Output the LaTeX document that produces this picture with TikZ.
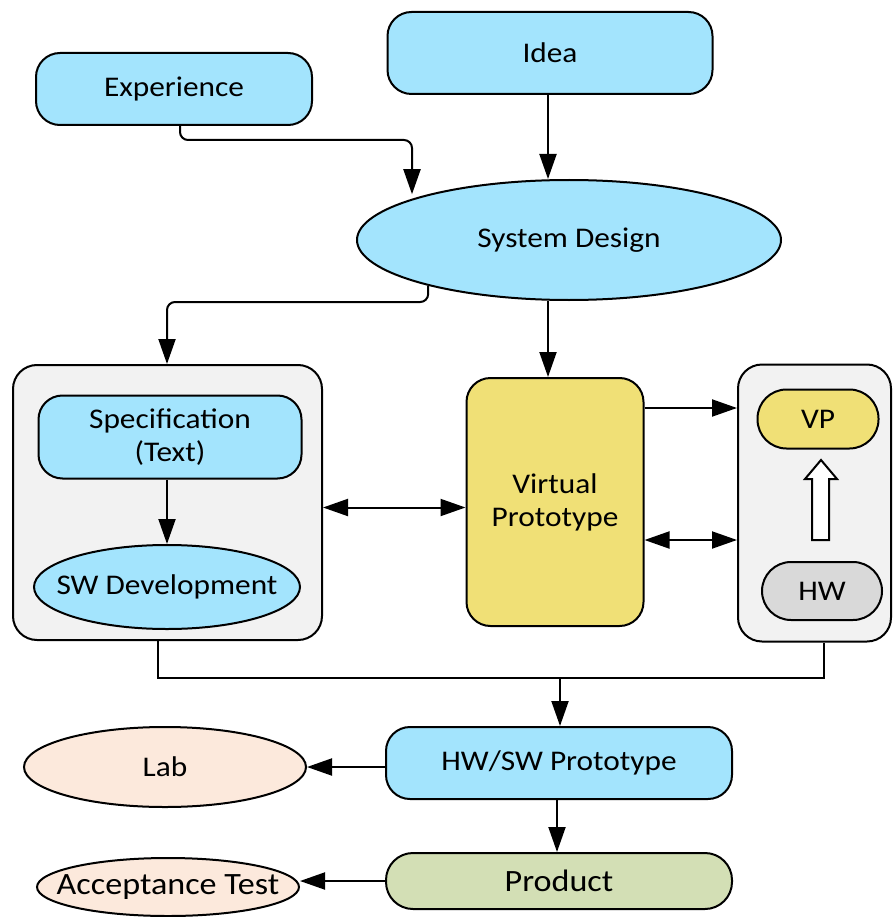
\documentclass[tikz,border=0pt]{standalone}
\usepackage{fontspec}
\setmainfont[FakeStretch=1.1]{Carlito}
\usetikzlibrary{arrows.meta,shapes.geometric}
\definecolor{lblue}{HTML}{A3E4FD}
\definecolor{peach}{HTML}{FCE9DC}
\definecolor{vyellow}{HTML}{F0E076}
\definecolor{cgray}{HTML}{F2F2F2}
\definecolor{hgray}{HTML}{D9D9D9}
\definecolor{pgreen}{HTML}{D3DFB5}
\tikzset{
  base/.style={draw=black, line width=2pt, inner sep=0pt, align=center, font=\fontsize{28.5}{33}\selectfont},
  bigtext/.style={font=\fontsize{31}{36}\selectfont},
  rbox/.style={base, rectangle, rounded corners=24pt},
  ebox/.style={base, ellipse},
  cont/.style={draw=black, line width=2pt, fill=cgray, rectangle, rounded corners=24pt, inner sep=0pt},
  arr/.style={line width=2pt, -{Triangle[length=25pt,width=17pt]}},
  darr/.style={line width=2pt, {Triangle[length=25pt,width=17pt]}-{Triangle[length=25pt,width=17pt]}},
}
\begin{document}
\begin{tikzpicture}[x=1pt,y=-1pt]
\useasboundingbox (0,0) rectangle (892,917);
% containers
\node[cont, minimum width=309pt, minimum height=275pt] (leftc) at (167.5,502.5) {};
\node[cont, minimum width=153pt, minimum height=277pt] (rightc) at (814.5,503) {};
% nodes
\node[rbox, fill=lblue, minimum width=276pt, minimum height=72pt] (exp) at (174,89) {Experience};
\node[rbox, fill=lblue, minimum width=325pt, minimum height=82pt] (idea) at (550,53) {Idea};
\node[ebox, fill=lblue, minimum width=424pt, minimum height=120pt] (sd) at (569,240) {System Design};
\node[rbox, fill=lblue, minimum width=263pt, minimum height=83pt] (spec) at (170,437) {Specification\\(Text)};
\node[ebox, fill=lblue, minimum width=266pt, minimum height=84pt, inner xsep=-25pt] (sw) at (167,587) {SW Development};
\node[rbox, fill=vyellow, minimum width=177pt, minimum height=248pt] (vp) at (555,502) {Virtual\\Prototype};
\node[rbox, fill=vyellow, minimum width=121pt, minimum height=59pt, rounded corners=29pt] (vpsmall) at (818,419) {VP};
\node[rbox, fill=hgray, minimum width=120pt, minimum height=58pt, rounded corners=29pt] (hw) at (822,591) {HW};
\node[rbox, fill=lblue, minimum width=346pt, minimum height=72pt] (hwsw) at (559,763) {HW/SW Prototype};
\node[ebox, fill=peach, minimum width=282pt, minimum height=80pt] (lab) at (165,767) {Lab};
\node[rbox, bigtext, fill=pgreen, minimum width=346pt, minimum height=56pt, rounded corners=27pt] (prod) at (559,881) {Product};
\node[ebox, bigtext, fill=peach, minimum width=262pt, minimum height=58pt, inner xsep=-30pt, inner ysep=-5pt] (acc) at (168,887) {Acceptance Test};
% hollow arrow
\draw[line width=2pt, fill=white, line join=miter] (812,540) -- (812,479) -- (805,479) -- (821,460) -- (837,479) -- (829,479) -- (829,540) -- cycle;
% connectors
\coordinate (expturn) at (412,140);
\draw[arr, rounded corners=8pt] ([xshift=6pt]exp.south) |- (expturn) [sharp corners] -- (expturn |- sd.162);
\draw[arr] ([xshift=-2pt]idea.south) -- ([xshift=-2pt]idea.south |- sd.north);
\coordinate (sdturn) at (167,302);
\draw[arr, rounded corners=8pt] (sd.198) |- (sdturn) [sharp corners] -- (sdturn |- leftc.north);
\draw[arr] ([xshift=-7pt]vp.north |- sd.south) -- ([xshift=-7pt]vp.north);
\draw[arr] (spec.south -| sw.north) -- (sw.north);
\draw[darr] ([yshift=-5pt]leftc.east) -- ([yshift=-5pt]leftc.east -| vp.west);
\draw[arr] ([yshift=94pt]vp.east) -- ([yshift=94pt]vp.east -| rightc.west);
\draw[darr] ([yshift=-38pt]vp.east) -- ([yshift=-38pt]vp.east -| rightc.west);
\coordinate (join) at (560,678);
\draw[line width=2pt] ([xshift=-9.5pt]leftc.south) |- (join) -| ([xshift=9.5pt]rightc.south);
\draw[arr] (join) -- (join |- hwsw.north);
\draw[arr] (hwsw.west |- lab.east) -- (lab.east);
\draw[arr] ([xshift=-2pt]hwsw.south) -- ([xshift=-2pt]hwsw.south |- prod.north);
\draw[arr] (prod.west) -- (prod.west -| acc.east);
\end{tikzpicture}
\end{document}
